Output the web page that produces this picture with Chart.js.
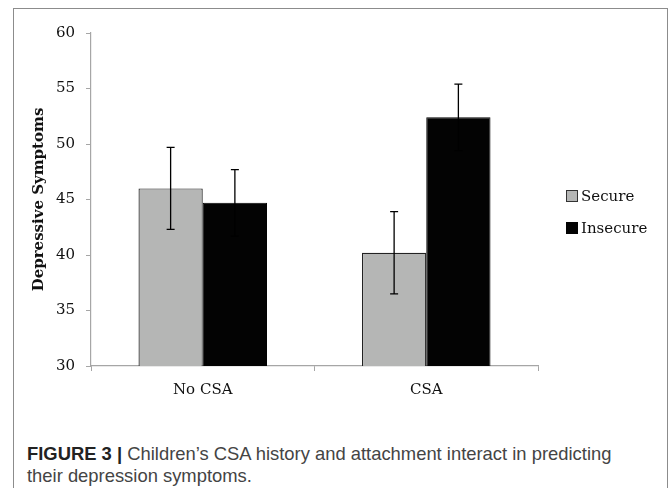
<!DOCTYPE html>
<html lang="en">
<head>
    <meta charset="UTF-8">
    <title>Depressive Symptoms by CSA and Attachment</title>
    <script src="https://cdn.jsdelivr.net/npm/chart.js"></script>
    <style>
        body {
            margin: 0;
            width: 671px;
            height: 488px;
            overflow: hidden;
            background: #fff;
            position: relative;
        }

        .frame {
            position: absolute;
            left: 13px;
            top: 8px;
            width: 653px;
            height: 520px;
            border: 1px solid #8c8c8c;
        }

        .chart-box {
            position: absolute;
            left: 0;
            top: 0;
            width: 671px;
            height: 420px;
        }

        .legend {
            position: absolute;
            left: 566px;
            top: 186px;
            font-family: "DejaVu Serif", serif;
            font-size: 15px;
            color: #111;
        }

        .legend div {
            height: 32px;
            line-height: 20px;
            white-space: nowrap;
        }

        .legend span {
            display: inline-block;
            width: 10px;
            height: 10px;
            margin-right: 3px;
            vertical-align: -1px;
        }

        .caption {
            position: absolute;
            left: 27px;
            top: 443px;
            font-family: "Liberation Sans", Arial, sans-serif;
            font-size: 18.4px;
            line-height: 22px;
            color: #444;
            white-space: nowrap;
        }

        .caption b {
            color: #222;
        }
    </style>
</head>
<body>
    <div class="frame"></div>
    <div class="chart-box">
        <canvas id="chart" width="671" height="420"></canvas>
    </div>
    <div class="legend" id="legend"></div>
    <div class="caption">
        <b>FIGURE 3</b> <b>|</b> Children’s CSA history and attachment interact in predicting<br>
        their depression symptoms.
    </div>

    <script>
        // dados
        const categories = ['No CSA', 'CSA'];
        const seriesNames = ['Secure', 'Insecure'];
        const secureValues = [46.0, 40.2];
        const insecureValues = [44.7, 52.4];
        const secureErrors = [3.7, 3.7];
        const insecureErrors = [3.0, 3.0];
        const yTicks = [30, 35, 40, 45, 50, 55, 60];

        const serif = '"DejaVu Serif", serif';
        const axisGray = '#a6a6a6';

        // barras de erro desenhadas pela escala y
        const errorBars = {
            id: 'errorBars',
            afterDatasetsDraw(chart) {
                const ctx = chart.ctx;
                const y = chart.scales.y;
                ctx.save();
                ctx.strokeStyle = '#000';
                ctx.lineWidth = 1.3;
                chart.data.datasets.forEach((ds, i) => {
                    chart.getDatasetMeta(i).data.forEach((bar, j) => {
                        const top = y.getPixelForValue(ds.data[j] + ds.errors[j]);
                        const bottom = y.getPixelForValue(ds.data[j] - ds.errors[j]);
                        ctx.beginPath();
                        ctx.moveTo(bar.x, top);
                        ctx.lineTo(bar.x, bottom);
                        ctx.moveTo(bar.x - 4, top);
                        ctx.lineTo(bar.x + 4, top);
                        ctx.moveTo(bar.x - 4, bottom);
                        ctx.lineTo(bar.x + 4, bottom);
                        ctx.stroke();
                    });
                });
                ctx.restore();
            }
        };

        const chart = new Chart(document.getElementById('chart'), {
            type: 'bar',
            data: {
                labels: categories,
                datasets: [
                    {
                        label: seriesNames[0],
                        data: secureValues,
                        errors: secureErrors,
                        backgroundColor: '#b5b6b5',
                        borderColor: '#222',
                        borderWidth: 1.2,
                    },
                    {
                        label: seriesNames[1],
                        data: insecureValues,
                        errors: insecureErrors,
                        backgroundColor: '#030303',
                        borderColor: '#030303',
                        borderWidth: 1,
                    },
                ],
            },
            options: {
                responsive: false,
                animation: false,
                layout: {
                    padding: { top: 33, right: 133, bottom: 0, left: 0 },
                },
                datasets: {
                    bar: {
                        barPercentage: 1,
                        categoryPercentage: 0.575,
                    },
                },
                plugins: {
                    legend: { display: false },
                    tooltip: { enabled: false },
                },
                scales: {
                    x: {
                        afterFit(scale) { scale.height = 54; },
                        grid: {
                            drawOnChartArea: false,
                            color: axisGray,
                            tickLength: 5,
                        },
                        border: { color: axisGray, width: 1.2 },
                        ticks: {
                            padding: 10,
                            color: '#111',
                            font: { family: serif, size: 15 },
                        },
                    },
                    y: {
                        min: 30,
                        max: 60,
                        afterFit(scale) { scale.width = 91; },
                        afterBuildTicks(scale) {
                            scale.ticks = yTicks.map(v => ({ value: v }));
                        },
                        grid: {
                            drawOnChartArea: false,
                            color: axisGray,
                            tickLength: 5,
                        },
                        border: { color: axisGray, width: 1.2 },
                        ticks: {
                            padding: 11,
                            color: '#111',
                            font: { family: serif, size: 15 },
                        },
                        title: {
                            display: true,
                            text: 'Depressive Symptoms',
                            color: '#111',
                            padding: { top: 30, bottom: 0 },
                            font: { family: serif, size: 15, weight: 'bold' },
                        },
                    },
                },
            },
            plugins: [errorBars],
        });

        // legenda à direita
        const legend = document.getElementById('legend');
        chart.data.datasets.forEach(ds => {
            const item = document.createElement('div');
            const box = document.createElement('span');
            box.style.background = ds.backgroundColor;
            box.style.border = '1px solid ' + (ds.label === 'Secure' ? '#333' : ds.backgroundColor);
            item.appendChild(box);
            item.appendChild(document.createTextNode(ds.label));
            legend.appendChild(item);
        });
    </script>
</body>
</html>
